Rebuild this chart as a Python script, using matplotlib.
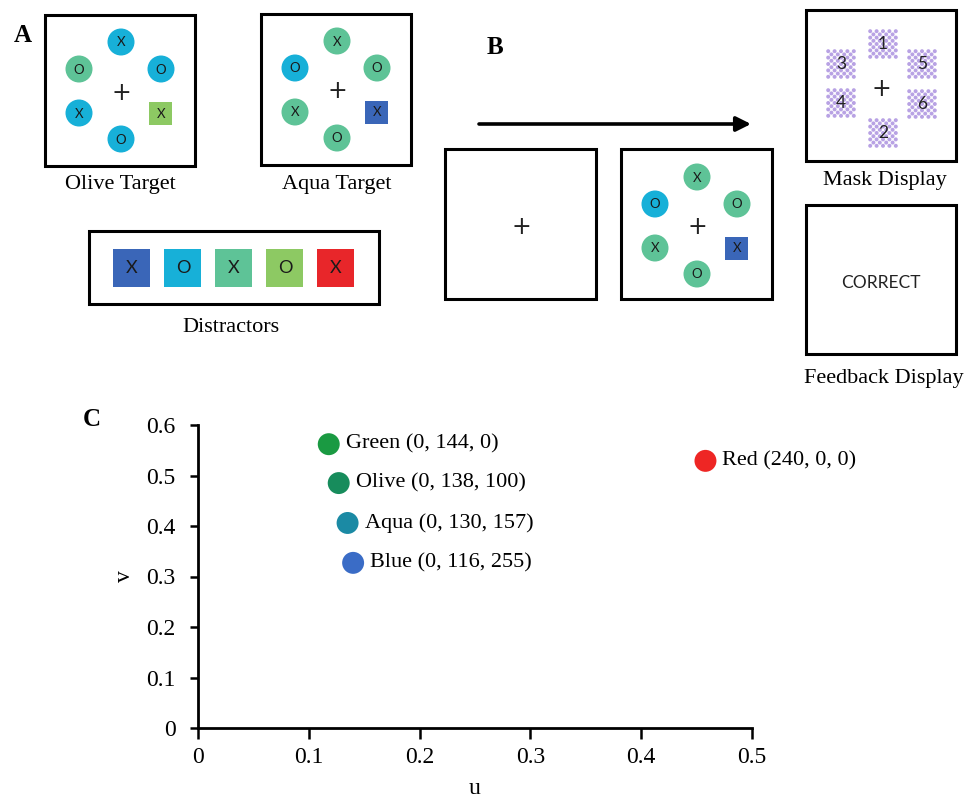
import matplotlib
matplotlib.use("Agg")
import matplotlib.pyplot as plt
from matplotlib.patches import Rectangle, Circle

plt.rcParams['font.family'] = ['Liberation Serif', 'DejaVu Serif']
SANS = ['Lato', 'DejaVu Sans']

# ---- Panel C data (CIE u'v' coordinates) ----
colour_names = ["Green", "Olive", "Aqua", "Blue", "Red"]
rgb_labels = ["(0, 144, 0)", "(0, 138, 100)", "(0, 130, 157)", "(0, 116, 255)", "(240, 0, 0)"]
u_vals = [0.118, 0.127, 0.135, 0.140, 0.458]
v_vals = [0.562, 0.485, 0.406, 0.327, 0.529]
point_colors = ["#1a9a42", "#178c5c", "#1b8aa4", "#3a6cc6", "#ee2624"]

x_ticks = [0, 0.1, 0.2, 0.3, 0.4, 0.5]
y_ticks = [0, 0.1, 0.2, 0.3, 0.4, 0.5, 0.6]

# ---- Panel A / B stimulus contents ----
# item order: top, upper-left, upper-right, lower-left, lower-right, bottom
palette = {"cyan": "#17b0d8", "mint": "#5ec397", "lime": "#8dc963",
           "blue": "#3a66b8", "red": "#e8262a"}
olive_letters = ["X", "O", "O", "X", "X", "O"]
olive_colors = ["cyan", "mint", "cyan", "cyan", "lime", "cyan"]
olive_shapes = ["c", "c", "c", "c", "s", "c"]
aqua_letters = ["X", "O", "O", "X", "X", "O"]
aqua_colors = ["mint", "cyan", "mint", "mint", "blue", "mint"]
aqua_shapes = ["c", "c", "c", "c", "s", "c"]
distractor_letters = ["X", "O", "X", "O", "X"]
distractor_colors = ["blue", "cyan", "mint", "lime", "red"]
mask_numbers = ["1", "3", "5", "4", "6", "2"]

fig = plt.figure(figsize=(9.69, 8.02), dpi=100)

# schematic layer in pixel units
ax0 = fig.add_axes([0, 0, 1, 1])
ax0.set_xlim(0, 969)
ax0.set_ylim(802, 0)
ax0.axis('off')

item_offsets = [(0, -48), (-42, -21), (40, -21), (-42, 23), (40, 23), (0, 49)]
mask_offsets = [(2, -42), (-40, -22), (41, -22), (-40, 17), (41, 18), (2, 47)]


def frame(x0, y0, x1, y1):
    ax0.add_patch(Rectangle((x0, y0), x1 - x0, y1 - y0, fill=False,
                            ec='black', lw=2.2, zorder=2))


def fixation(cx, cy):
    ax0.text(cx, cy, "+", family='DejaVu Sans', fontsize=17, color='#222222',
             ha='center', va='center_baseline')


def search_display(cx, cy, letters, colors, shapes):
    fixation(cx, cy)
    for (dx, dy), let, col, shp in zip(item_offsets, letters, colors, shapes):
        x, y = cx + dx, cy + dy
        if shp == "c":
            ax0.add_patch(Circle((x, y), 13.5, color=palette[col], lw=0))
        else:
            ax0.add_patch(Rectangle((x - 11.5, y - 11.5), 23, 23,
                                    color=palette[col], lw=0))
        ax0.text(x, y + 0.5, let, family=SANS, fontsize=9.5, color='#1a1a1a',
                 ha='center', va='center')


# Panel A
ax0.text(23, 35, "A", fontsize=18, fontweight='bold', ha='center', va='center')
frame(45, 15, 195, 166)
search_display(121, 90, olive_letters, olive_colors, olive_shapes)
ax0.text(120, 184, "Olive Target", fontsize=16, ha='center', va='center')

frame(261, 14, 411, 165)
search_display(337, 89, aqua_letters, aqua_colors, aqua_shapes)
ax0.text(337, 184, "Aqua Target", fontsize=16, ha='center', va='center')

frame(89, 231, 379, 304)
for i, (let, col) in enumerate(zip(distractor_letters, distractor_colors)):
    x = 132 + 51 * i
    ax0.add_patch(Rectangle((x - 18.5, 268 - 19), 37, 38, color=palette[col], lw=0))
    ax0.text(x, 268, let, family=SANS, fontsize=13, color='#1a1a1a',
             ha='center', va='center')
ax0.text(231, 327, "Distractors", fontsize=16, ha='center', va='center')

# Panel B
ax0.text(495, 47, "B", fontsize=18, fontweight='bold', ha='center', va='center')
ax0.annotate('', xy=(751, 124), xytext=(479, 124),
             arrowprops=dict(arrowstyle='-|>', lw=2.6, color='black',
                             mutation_scale=22, shrinkA=0, shrinkB=0))
frame(445, 149, 596, 299)
fixation(521, 225)
frame(621, 149, 772, 299)
search_display(697, 225, aqua_letters, aqua_colors, aqua_shapes)

# mask display
frame(806, 10, 956, 161)
fixation(881, 86)
cell = 3.2
for (dx, dy), num in zip(mask_offsets, mask_numbers):
    x, y = 881 + dx, 86 + dy
    for r in range(9):
        for c in range(9):
            if (r + c) % 2 == 0:
                ax0.add_patch(Circle((x - 4 * cell + c * cell, y - 4 * cell + r * cell),
                                     cell * 0.62, color='#b8a2e4', lw=0))
    ax0.text(x, y, num, family=SANS, fontsize=12.5, color='#222222',
             ha='center', va='center')
ax0.text(885, 180, "Mask Display", fontsize=16, ha='center', va='center')

frame(806, 205, 956, 354)
ax0.text(881, 283, "CORRECT", family=SANS, fontsize=12.5, color='#222222',
         ha='center', va='center')
ax0.text(884, 378, "Feedback Display", fontsize=16, ha='center', va='center')

# Panel C
ax0.text(92, 420, "C", fontsize=18, fontweight='bold', ha='center', va='center')
ax = fig.add_axes([198 / 969, (802 - 728) / 802, (752 - 198) / 969, (728 - 425) / 802])
ax.set_xlim(0, 0.5)
ax.set_ylim(0, 0.6)
ax.patch.set_alpha(0)
for s in ['top', 'right']:
    ax.spines[s].set_visible(False)
for s in ['left', 'bottom']:
    ax.spines[s].set_linewidth(2)
ax.set_xticks(x_ticks)
ax.set_yticks(y_ticks)
ax.set_xticklabels(['0' if t == 0 else f'{t:g}' for t in x_ticks])
ax.set_yticklabels(['0' if t == 0 else f'{t:g}' for t in y_ticks])
ax.tick_params(axis='x', direction='out', length=8, width=1.8, pad=6, labelsize=17)
ax.tick_params(axis='y', direction='out', length=6, width=1.8, pad=10, labelsize=17)
ax.set_xlabel("u", fontsize=17, labelpad=7)
ax.set_ylabel("v", fontsize=17, labelpad=8)

ax.scatter(u_vals, v_vals, s=250, c=point_colors, linewidths=0, zorder=3, clip_on=False)
for name, rgb, u, v in zip(colour_names, rgb_labels, u_vals, v_vals):
    ax.annotate(f"{name} {rgb}", (u, v), xytext=(17, 0), textcoords='offset pixels',
                fontsize=16, va='center', ha='left')

fig.savefig("out.png", dpi=100)
